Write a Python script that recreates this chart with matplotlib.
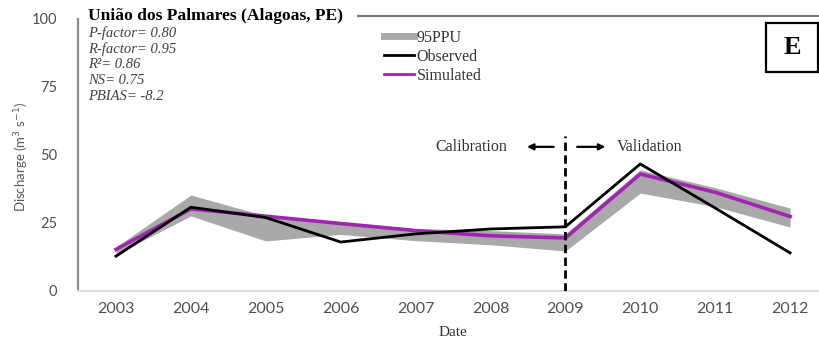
import numpy as np
import matplotlib.pyplot as plt
from matplotlib.lines import Line2D
from matplotlib.patches import Rectangle

#Annual discharge series (m3/s)
years = [2003, 2004, 2005, 2006, 2007, 2008, 2009, 2010, 2011, 2012]
observed = [12.8, 30.8, 27.0, 18.0, 21.0, 22.8, 23.6, 46.7, 30.5, 14.0]
simulated = [15.3, 30.2, 27.5, 24.8, 22.2, 20.3, 19.5, 43.0, 36.3, 27.4]
ppu_low = [13.5, 27.6, 18.4, 20.8, 18.5, 17.0, 14.7, 36.0, 31.0, 23.5]
ppu_high = [16.2, 35.3, 27.6, 25.5, 23.0, 22.2, 21.0, 44.5, 38.0, 30.5]

yticks = [0, 25, 50, 75, 100]
split_year = 2009

stats = ["P-factor= 0.80",
         "R-factor= 0.95",
         "R\u00b2= 0.86",
         "NS= 0.75",
         "PBIAS= -8.2"]

W, H = 820, 340
SERIF = 'Liberation Serif'
SANS = 'Lato'

def fx(px):
    return px / W

def fy(py):
    return 1 - py / H

fig = plt.figure(figsize=(W / 100, H / 100), dpi=100)
ax = fig.add_axes([fx(78), fy(291), fx(820) - fx(78), fy(19) - fy(291)])

#95PPU band + lines
ax.fill_between(years, ppu_low, ppu_high, color='#a9a9a9', lw=0, zorder=1)
ax.plot(years, observed, color='black', lw=2.0, zorder=3)
ax.plot(years, simulated, color='#a224b2', lw=2.6, zorder=2)

#Calibration / validation split
ax.axvline(split_year, ymin=0, ymax=0.57, color='black', lw=2, ls=(0, (3, 1.6)), zorder=4)
ax.annotate('', xy=(split_year - 0.55, 53), xytext=(split_year - 0.12, 53),
            arrowprops=dict(arrowstyle='-|>', color='black', lw=1.6, mutation_scale=9))
ax.annotate('', xy=(split_year + 0.57, 53), xytext=(split_year + 0.12, 53),
            arrowprops=dict(arrowstyle='-|>', color='black', lw=1.6, mutation_scale=9))
ax.text(split_year - 1.26, 53, 'Calibration', family=SERIF, fontsize=11.5,
        color='#333333', ha='center', va='center')
ax.text(split_year + 1.13, 53, 'Validation', family=SERIF, fontsize=11.5,
        color='#333333', ha='center', va='center')

ax.set_xlim(2003 - 38 / 74.9, 2003 + 704 / 74.9)
ax.set_ylim(0, 100)
ax.set_xticks(years)
ax.set_xticklabels([str(y) for y in years], family=SANS, fontsize=11.5, color='#505050')
ax.set_yticks(yticks)
ax.set_yticklabels([str(v) for v in yticks], family=SANS, fontsize=10.5, color='#505050')
ax.tick_params(axis='both', length=0)
ax.tick_params(axis='x', pad=8)
ax.tick_params(axis='y', pad=15)

for s in ['top', 'right']:
    ax.spines[s].set_visible(False)
ax.spines['left'].set_color('#8c8c8c')
ax.spines['left'].set_linewidth(1.6)
ax.spines['bottom'].set_color('#dcdcdc')
ax.spines['bottom'].set_linewidth(1.5)

fig.text(fx(453), fy(332), 'Date', family=SERIF, fontsize=11, color='#333333',
         ha='center', va='center')
fig.text(fx(22), fy(157), 'Discharge (m$^3$ s$^{-1}$)', family=SANS, fontsize=9.5,
         color='#595959', rotation=90, ha='center', va='center')

#Station name and performance statistics
fig.text(fx(88), fy(16), 'União dos Palmares (Alagoas, PE)', family=SERIF,
         fontsize=12.6, weight='bold', color='black', va='center')
for i, line in enumerate(stats):
    fig.text(fx(88), fy(33 + 16 * i), line, family=SERIF, fontsize=10.5,
             style='italic', color='#404040', va='center')

fig.add_artist(Line2D([fx(358), fx(820)], [fy(16), fy(16)], color='#777777', lw=1.5))

#Legend
handles = [Line2D([], [], color='#a9a9a9', lw=5),
           Line2D([], [], color='black', lw=2),
           Line2D([], [], color='#a224b2', lw=2)]
leg = fig.legend(handles, ['95PPU', 'Observed', 'Simulated'], loc='upper left',
                 bbox_to_anchor=(fx(384), fy(30)), frameon=False, handlelength=1.9,
                 handletextpad=0.15, labelspacing=0.18, borderaxespad=0,
                 borderpad=0, prop={'family': SERIF, 'size': 11.5})
for t in leg.get_texts():
    t.set_color('#333333')

#Panel letter
fig.add_artist(Rectangle((fx(766), fy(72)), fx(818) - fx(766), fy(23) - fy(72),
                         transform=fig.transFigure, fill=False, ec='black', lw=1.6))
fig.text(fx(792), fy(47.5), 'E', family=SERIF, fontsize=19, weight='bold',
         ha='center', va='center')

fig.savefig('out.png', dpi=100)
